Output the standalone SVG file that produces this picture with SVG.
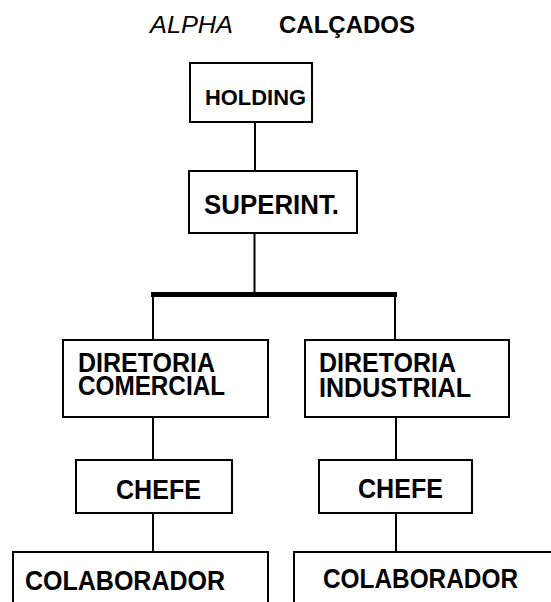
<svg xmlns="http://www.w3.org/2000/svg" width="551" height="602" viewBox="0 0 551 602">
  <style>
    .box { fill: #fff; stroke: #000; stroke-width: 2; }
    .lbl { font-family: "Liberation Sans", Arial, sans-serif; font-size: 27px; font-weight: bold; fill: #000; }
    .link { stroke: #000; stroke-width: 2; fill: none; }
    .bar { stroke: #000; stroke-width: 5; fill: none; }
  </style>
  <rect width="551" height="602" fill="#fff"/>

  <!-- Title -->
  <g id="title">
    <text x="150" y="33" font-family="Liberation Sans, Arial, sans-serif" font-size="24" font-style="italic" textLength="83" lengthAdjust="spacingAndGlyphs">ALPHA</text>
    <text x="279" y="33" class="lbl" style="font-size:24px" textLength="136" lengthAdjust="spacingAndGlyphs">CALÇADOS</text>
  </g>

  <!-- Connectors -->
  <g id="connectors">
    <line class="link" x1="255" y1="122" x2="255" y2="171"/>
    <line class="link" x1="254.5" y1="233" x2="254.5" y2="293"/>
    <line class="bar" x1="151" y1="294.5" x2="397" y2="294.5"/>
    <line class="link" x1="153" y1="294" x2="153" y2="340"/>
    <line class="link" x1="395" y1="294" x2="395" y2="340"/>
    <line class="link" x1="153" y1="417" x2="153" y2="460"/>
    <line class="link" x1="153" y1="513" x2="153" y2="552"/>
    <line class="link" x1="396" y1="417" x2="396" y2="460"/>
    <line class="link" x1="396" y1="513" x2="396" y2="552"/>
  </g>

  <g id="holding">
    <rect class="box" x="190" y="63" width="122" height="59"/>
    <text class="lbl" x="205" y="105" style="font-size:22.5px" textLength="101" lengthAdjust="spacingAndGlyphs">HOLDING</text>
  </g>

  <g id="superint">
    <rect class="box" x="189" y="171" width="168" height="62"/>
    <text class="lbl" x="204" y="214" textLength="135" lengthAdjust="spacingAndGlyphs">SUPERINT.</text>
  </g>

  <g id="dir-comercial">
    <rect class="box" x="63" y="340" width="205" height="77"/>
    <text class="lbl"><tspan x="78" y="372" textLength="137" lengthAdjust="spacingAndGlyphs">DIRETORIA</tspan><tspan x="78" y="395" textLength="147" lengthAdjust="spacingAndGlyphs">COMERCIAL</tspan></text>
  </g>

  <g id="dir-industrial">
    <rect class="box" x="305" y="340" width="204" height="77"/>
    <text class="lbl"><tspan x="319" y="372" textLength="137" lengthAdjust="spacingAndGlyphs">DIRETORIA</tspan><tspan x="319" y="397" textLength="152" lengthAdjust="spacingAndGlyphs">INDUSTRIAL</tspan></text>
  </g>

  <g id="chefe-comercial">
    <rect class="box" x="76" y="460" width="156" height="53"/>
    <text class="lbl" x="116" y="499" textLength="85" lengthAdjust="spacingAndGlyphs">CHEFE</text>
  </g>

  <g id="chefe-industrial">
    <rect class="box" x="319" y="460" width="153" height="53"/>
    <text class="lbl" x="358" y="498" textLength="85" lengthAdjust="spacingAndGlyphs">CHEFE</text>
  </g>

  <g id="colab-comercial">
    <rect class="box" x="13" y="552" width="255" height="70"/>
    <text class="lbl" x="25" y="590" textLength="200" lengthAdjust="spacingAndGlyphs">COLABORADOR</text>
  </g>

  <g id="colab-industrial">
    <rect class="box" x="294" y="552" width="280" height="70"/>
    <text class="lbl" x="323" y="588" textLength="195" lengthAdjust="spacingAndGlyphs">COLABORADOR</text>
  </g>
</svg>
